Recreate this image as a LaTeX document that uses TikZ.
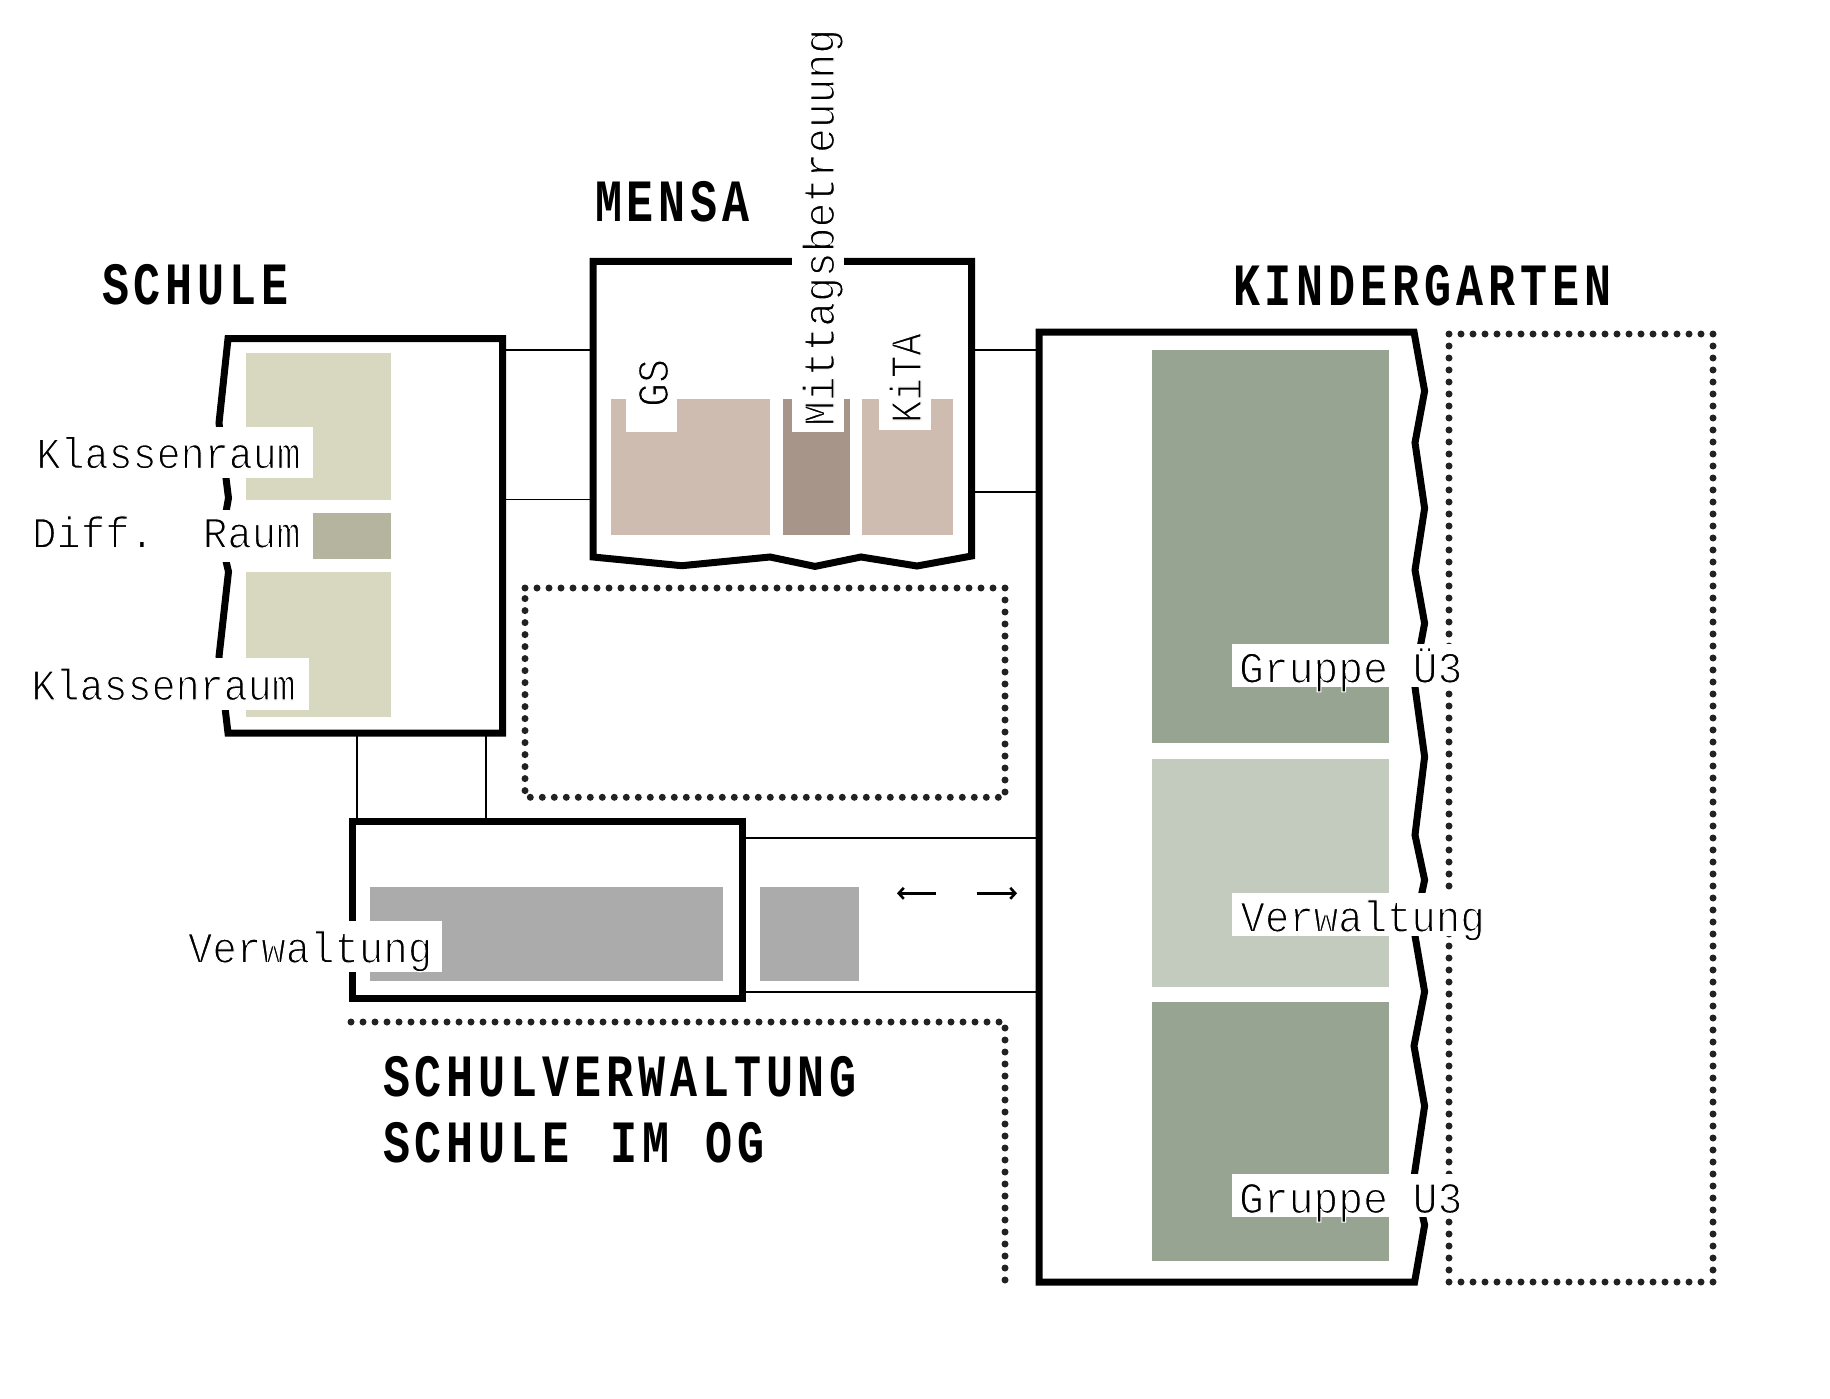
\documentclass[tikz,border=0pt]{standalone}
\usepackage{fontspec}
\usetikzlibrary{arrows.meta}
\setmainfont{Liberation Sans}
\newfontfamily\labfont[FakeStretch=0.925]{Liberation Mono}
\newfontfamily\labkfont[FakeStretch=0.91]{Liberation Mono}
\newfontfamily\labmfont[FakeStretch=0.94]{Liberation Mono}
\newfontfamily\labnfont[FakeStretch=0.85]{Liberation Mono}
\newfontfamily\headfont[FakeStretch=0.75,LetterSpace=8.2]{Liberation Mono}
\newcommand{\thintext}[1]{\special{pdf:code q 2 Tr 1.1 w 1 1 1 RG}#1\special{pdf:code Q}}
\definecolor{klasse}{HTML}{D8D7BF}
\definecolor{diffr}{HTML}{B5B49F}
\definecolor{mensaa}{HTML}{CEBCB0}
\definecolor{mensab}{HTML}{A8958A}
\definecolor{grau}{HTML}{ABABAB}
\definecolor{kigaa}{HTML}{98A492}
\definecolor{kigab}{HTML}{C3CBBF}
\definecolor{dotc}{HTML}{222222}
\tikzset{
  wall/.style={draw=black,line width=7pt,line join=miter},
  anchorbox/.style={rectangle,inner sep=0pt,outer sep=0pt,minimum width=#1},
  thinline/.style={draw=black,line width=1.6pt},
  midline/.style={draw=black,line width=2.2pt},
  dotline/.style={draw=dotc,line width=7pt,line cap=round,dash pattern=on 0pt off 12pt},
  patch/.style={fill=white},
  lab/.style={inner sep=0pt,outer sep=0pt,anchor=base west,font=\labfont\fontsize{44}{50}\selectfont,text=black},
  labk/.style={lab,font=\labkfont\fontsize{44}{50}\selectfont},
  labm/.style={lab,font=\labmfont\fontsize{44}{50}\selectfont},
  labn/.style={lab,font=\labnfont\fontsize{44}{50}\selectfont},
  head/.style={inner sep=0pt,outer sep=0pt,anchor=base west,font=\headfont\bfseries\fontsize{60}{66}\selectfont,text=black},
  flow/.style={draw=black,line width=3.6pt,-{Straight Barb[length=5pt,width=11pt,line width=2.6pt]}}
}
\begin{document}
\begin{tikzpicture}[x=1pt,y=-1pt]
\useasboundingbox (0,0) rectangle (1830,1399);
% rooms
\fill[klasse] (246,353.3) rectangle (391,500);
\fill[diffr] (313,512.7) rectangle (391,559.3);
\fill[klasse] (246,572) rectangle (391,716.7);
\fill[mensaa] (610.7,399) rectangle (770,534.6);
\fill[mensab] (783.3,399) rectangle (850.3,534.6);
\fill[mensaa] (862,399) rectangle (953,534.6);
\fill[grau] (370.3,886.7) rectangle (722.8,981);
\fill[grau] (760,886.7) rectangle (858.9,981);
\fill[kigaa] (1152,350) rectangle (1389,743.3);
\fill[kigab] (1152,759) rectangle (1389,986.7);
\fill[kigaa] (1152,1001.7) rectangle (1389,1261);
% anchors of the buildings
\node[anchorbox=0pt] (schule) at (502.7,338.7) {};
\node[anchorbox=0pt] (schuleb) at (502.7,733) {};
\node[anchorbox=0pt] (mensaw) at (593,261.4) {};
\node[anchorbox=0pt] (mensae) at (971.7,261.4) {};
\node[anchorbox=0pt] (kiga) at (1039,332) {};
\node[anchorbox=0pt] (verww) at (352.5,821.3) {};
\node[anchorbox=0pt] (verwe) at (742.4,821.3) {};
\coordinate (s1) at (0,350);
\coordinate (s2) at (0,499.5);
\coordinate (m1) at (0,350);
\coordinate (m2) at (0,492);
\coordinate (v1) at (0,837.7);
\coordinate (v2) at (0,991.7);
\coordinate (c1) at (357,0);
\coordinate (c2) at (485.7,0);
% connectors
\draw[thinline] (schule |- s1) -- (mensaw |- s1);
\draw[thinline] (schule |- s2) -- (mensaw |- s2);
\draw[midline] (mensae |- m1) -- (kiga |- m1);
\draw[midline] (mensae |- m2) -- (kiga |- m2);
\draw[midline] (verwe |- v1) -- (kiga |- v1);
\draw[midline] (verwe |- v2) -- (kiga |- v2);
\draw[thinline] (c1 |- schuleb) -- (c1 |- verww);
\draw[thinline] (c2 |- schuleb) -- (c2 |- verww);
% walls
\draw[wall] (228,338.7) -- (schule.center) -- (schuleb.center) -- (228,733) -- (219,656.7) -- (228.5,571.7) -- (221,540) -- (228.5,498) -- (219,423) -- cycle;
\draw[wall] (mensaw.center) -- (mensae.center) -- (971.7,556) -- (917,566) -- (861,557) -- (815,566.4) -- (770,557) -- (681.7,565.7) -- (593,557) -- cycle;
\draw[wall] (verww.center) -- (verwe.center) -- (742.4,998) -- (352.5,998) -- cycle;
\draw[wall] (kiga.center) -- (1414,332) -- (1424.6,391) -- (1415,442.7) -- (1424.6,508.3) -- (1415,570) -- (1424.6,623.3) -- (1414,680) -- (1424.6,756.7) -- (1415,835) -- (1424.6,880) -- (1414,930) -- (1424.6,991.7) -- (1414,1046) -- (1424.6,1106) -- (1414,1177) -- (1424.6,1225) -- (1414.6,1282) -- (1039,1282) -- cycle;
% dotted
\draw[dotline] (525,588) -- (1005,588) -- (1005,797.3) -- (525,797.3) -- cycle;
\draw[dotline] (351,1022) -- (1005,1022) -- (1005,1284);
\draw[dotline] (1449,334) -- (1713,334) -- (1713,1282) -- (1449,1282) -- cycle;
% arrows
\coordinate (al) at (936,893.3);
\coordinate (ar) at (976.5,893.3);
\coordinate (alt) at (897,893.3);
\coordinate (art) at (1017,893.3);
\draw[flow] (al) -- (alt);
\draw[flow] (ar) -- (art);
% label patches
\fill[patch] (25,426.7) rectangle (313,478.3);
\fill[patch] (25,510) rectangle (313,562);
\fill[patch] (25,657.7) rectangle (308.6,710);
\fill[patch] (625.7,340) rectangle (677.3,431.8);
\fill[patch] (792,30) rectangle (844,431.8);
\fill[patch] (879,320) rectangle (931,430);
\fill[patch] (180,920.7) rectangle (441.5,972.3);
\fill[patch] (1232,644.3) rectangle (1470,687.3);
\fill[patch] (1232,893) rectangle (1490,936);
\fill[patch] (1232,1174.3) rectangle (1470,1217.3);
% labels
\node[labk] (k1) at (36.5,468.3) {\thintext{Klassenraum}};
\node[lab] (df) at (32,547.7) {\thintext{Diff.~~Raum}};
\node[labk] (k2) at (31.5,700) {\thintext{Klassenraum}};
\node[labk,rotate=90] (gs) at (668,407) {\thintext{GS}};
\node[labm,rotate=90] (mb) at (834,426) {\thintext{Mittagsbetreuung}};
\node[labn,rotate=90] (ki) at (921,423) {\thintext{KiTA}};
\node[lab] (v1l) at (188,962.7) {\thintext{Verwaltung}};
\node[labm] (g1) at (1239,682.7) {\thintext{Gruppe Ü3}};
\node[lab] (v2l) at (1240.5,931.7) {\thintext{Verwaltung}};
\node[labm] (g2) at (1239,1213) {\thintext{Gruppe U3}};
% headings
\node[head] (h1) at (102,304.3) {SCHULE};
\node[head] (h2) at (595,221.6) {MENSA};
\node[head] (h3) at (1233,305) {KINDERGARTEN};
\node[head] (h4) at (383,1096) {SCHULVERWALTUNG};
\node[head] (h5) at (383,1162) {SCHULE\hspace{9pt} IM\hspace{4pt} OG};
\end{tikzpicture}
\end{document}
